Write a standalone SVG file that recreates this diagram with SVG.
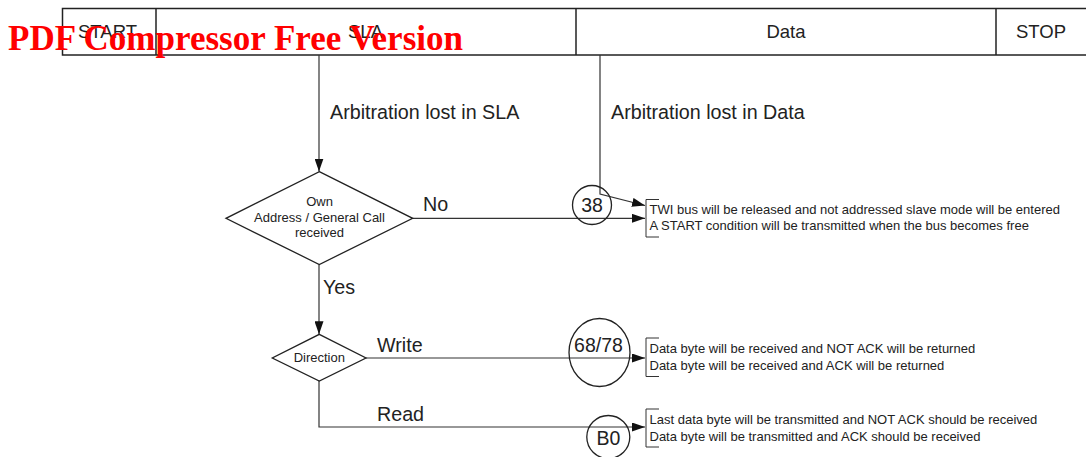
<svg xmlns="http://www.w3.org/2000/svg" width="1086" height="457" viewBox="0 0 1086 457">
<style>
.hdr{fill:none;stroke:#222;stroke-width:1.5}
.t{font-family:"Liberation Sans",Arial,sans-serif;fill:#222}
.h{font-size:18.5px;text-anchor:middle}
.lbl{font-size:19.7px}
.small{font-size:13px}
.dtxt{font-size:13px;text-anchor:middle}
.cn{font-size:19.5px;text-anchor:middle}
.ln{fill:none;stroke:#333;stroke-width:1.2}
.shape{fill:#fff;stroke:#222;stroke-width:1.3}
.circ{fill:none;stroke:#222;stroke-width:1.3}
.br{fill:none;stroke:#333;stroke-width:1}
.wm{font-family:"Liberation Serif","Times New Roman",serif;font-weight:bold;font-size:36px;fill:#ff0000}
</style>
<defs>
<marker id="arr" viewBox="0 0 13 9" refX="13" refY="4.5" markerWidth="13" markerHeight="9" orient="auto" markerUnits="userSpaceOnUse">
<path d="M0,0 L13,4.5 L0,9 z" fill="#111"/>
</marker>
</defs>
<rect width="1086" height="457" fill="#fff"/>
<g id="header">
<rect class="hdr" x="62.5" y="8.5" width="1030" height="46.5"/>
<line class="hdr" x1="156" y1="8.5" x2="156" y2="55"/>
<line class="hdr" x1="576" y1="8.5" x2="576" y2="55"/>
<line class="hdr" x1="996" y1="8.5" x2="996" y2="55"/>
<text class="t h" x="107.5" y="37.5">START</text>
<text class="t h" x="365.5" y="37.5">SLA</text>
<text class="t h" x="786" y="37.5">Data</text>
<text class="t h" x="1041" y="37.5">STOP</text>
</g>
<g id="connectors">
<path class="ln" d="M319,55 V171.5" marker-end="url(#arr)"/>
<path class="ln" d="M600,55 V194 L645,205.5" marker-end="url(#arr)"/>
<path class="ln" d="M412.5,218.3 H645" marker-end="url(#arr)"/>
<path class="ln" d="M319,264.5 V334.3" marker-end="url(#arr)"/>
<path class="ln" d="M366,358 H645" marker-end="url(#arr)"/>
<path class="ln" d="M319,381 V427 H645" marker-end="url(#arr)"/>
<text class="t lbl" x="330" y="119">Arbitration lost in SLA</text>
<text class="t lbl" x="611" y="119">Arbitration lost in Data</text>
<text class="t lbl" x="423" y="211">No</text>
<text class="t lbl" x="323" y="294">Yes</text>
<text class="t lbl" x="377" y="352">Write</text>
<text class="t lbl" x="377" y="421">Read</text>
</g>
<g id="own-address">
<polygon class="shape" points="319.3,171.7 412.7,218.3 319.3,264.5 226,218.3"/>
<text class="t dtxt" x="319.5" y="206">Own</text>
<text class="t dtxt" x="319.5" y="221.5">Address / General Call</text>
<text class="t dtxt" x="319.5" y="237">received</text>
</g>
<g id="direction">
<polygon class="shape" points="319.3,334.3 366,358 319.3,381 272.3,358"/>
<text class="t dtxt" x="319.3" y="362">Direction</text>
</g>
<g id="s38">
<circle class="circ" cx="592" cy="205" r="19.5"/>
<text class="t cn" x="592" y="211.5">38</text>
</g>
<g id="s6878">
<ellipse class="circ" cx="599.5" cy="352.5" rx="30.5" ry="34"/>
<text class="t cn" x="598.5" y="352">68/78</text>
</g>
<g id="sB0">
<circle class="circ" cx="608.3" cy="437" r="21.5"/>
<text class="t cn" x="608.5" y="445">B0</text>
</g>
<g id="result-38">
<path class="br" d="M659,199.5 H646 V237 H659"/>
<text class="t small" x="649.5" y="214">TWI bus will be released and not addressed slave mode will be entered</text>
<text class="t small" x="649.5" y="230">A START condition will be transmitted when the bus becomes free</text>
</g>
<g id="result-6878">
<path class="br" d="M659,338 H646 V376.5 H659"/>
<text class="t small" x="649.5" y="353">Data byte will be received and NOT ACK will be returned</text>
<text class="t small" x="649.5" y="369.5">Data byte will be received and ACK will be returned</text>
</g>
<g id="result-B0">
<path class="br" d="M659,409 H646 V447 H659"/>
<text class="t small" x="649.5" y="424">Last data byte will be transmitted and NOT ACK should be received</text>
<text class="t small" x="649.5" y="440.5">Data byte will be transmitted and ACK should be received</text>
</g>
<text class="wm" x="8" y="50" textLength="455" lengthAdjust="spacingAndGlyphs">PDF Compressor Free Version</text>
</svg>
